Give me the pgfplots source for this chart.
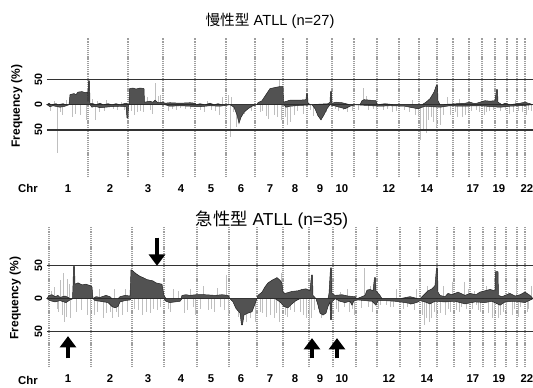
\documentclass[border=0pt]{standalone}
\usepackage{pgfplots}
\pgfplotsset{compat=1.18}
\usepackage{fontspec}
\setmainfont{Liberation Sans}
\newfontfamily\cjk{Noto Sans CJK JP}
\usetikzlibrary{arrows.meta}

\pgfplotsset{
 panel/.style={scale only axis, width=364.5pt, xmin=47, xmax=533,
  axis line style={draw=none}, tick style={draw=none}, clip=false,
  ytick={-50,0,50}, yticklabels={50,0,50},
  xtick={68,110,148,181,211,241,270,295,320,342,389,427,473,499,527},
  xticklabels={1,2,3,4,5,6,7,8,9,10,12,14,17,19,22},
  xticklabel style={font=\bfseries\fontsize{8.5}{10}\selectfont, yshift=-2pt},
  yticklabel style={font=\bfseries\fontsize{8}{10}\selectfont, rotate=90, anchor=south},
  /pgf/number format/assume math mode=true},
 spk/.style={ycomb, gray!50, line width=0.55pt, mark=none},
 ar/.style={fill=black!68, draw=black!88, line width=0.35pt, mark=none},
}
\tikzset{
 sep/.style={gray!75, line width=0.9pt, dash pattern=on 0.9pt off 0.7pt},
 hl/.style={black!80, line width=0.85pt},
 arr/.style={black, line width=3pt, -{Triangle[width=12pt,length=8.5pt]}},
}

\begin{document}
\begin{tikzpicture}
\path[use as bounding box] (0,0) rectangle (399.75pt,290.25pt);

% ---------- top panel ----------
\begin{axis}[panel, at={(35.25pt,157.5pt)}, anchor=south west, height=104.25pt, ymin=-143, ymax=132]
\pgfplotsinvokeforeach{88,128,163,195,226,255,283,307,332,354,377,399,419,437,453,469,482,495,507,517,525}{
 \draw[sep] (axis cs:#1,-143) -- (axis cs:#1,132);}
\addplot[spk] coordinates {(57,-95)(62,-20)(66,10)(72,-25)(80,-20)(84,14)(92,12)(95,-30)(97,8)(104,-12)(117,-10)(124,-10)(137,-15)(140,-12)(150,-10)(155,42)(160,20)(168,-12)(176,-10)(185,-8)(200,-10)(207,8)(215,-12)(222,15)(228,20)(230,-63)(233,-15)(247,-10)(262,-12)(274,-20)(279,49)(285,-25)(290,-35)(294,-20)(310,-10)(316,-10)(322,-20)(338,-12)(347,-15)(363,33)(368,-10)(373,-8)(383,-10)(392,-15)(404,-10)(415,-20)(420,-70)(423,-50)(428,-30)(433,-35)(440,-40)(447,15)(450,-20)(455,-15)(459,12)(462,-25)(468,-15)(476,-10)(486,-15)(493,-10)(505,-10)(513,-15)(518,-12)(528,-10)};
\addplot[spk] coordinates {(50,-12)(54,8)(60,-15)(75,-18)(86,-30)(99,-15)(106,10)(113,-8)(121,6)(131,-12)(134,-20)(143,-14)(147,15)(152,-18)(158,18)(172,-8)(180,-6)(190,-8)(204,-14)(211,-10)(219,-20)(225,-25)(231,15)(236,-45)(244,-18)(251,-12)(260,-15)(266,-22)(268,-28)(277,-25)(281,-30)(287,-40)(297,-12)(303,-18)(313,-22)(319,-25)(326,-15)(335,-8)(343,-10)(352,-12)(358,-10)(366,18)(376,-12)(387,-8)(396,-12)(409,-15)(412,10)(418,-25)(426,-55)(431,-25)(436,-45)(443,-20)(452,12)(457,-25)(465,-20)(471,-12)(479,-15)(484,-20)(489,-12)(500,-12)(509,-18)(515,10)(522,-15)(526,-20)(531,-12)};
\addplot[ar] coordinates {(47,0)(49,3)(51,0)(56,2)(58,0)(63,2)(66,0)(69,0)(70,20)(72,21)(74,22)(76,20)(78,25)(82,26)(85,24)(87.5,25)(88,6)(88.5,47)(89.5,47)(90,3)(93,2)(96,0)(100,3)(103,0)(108,2)(112,0)(116,2)(120,0)(126,3)(129,0)(129.5,32)(133,33)(136,31)(140,33)(144,32)(144.5,5)(150,7)(153,5)(155,9)(158,4)(163,5)(165,3)(170,4)(180,3)(190,4)(195,3)(196,0)(200,2)(205,0)(210,3)(214,0)(218,2)(222,0)(257,0)(258,4)(262,8)(266,20)(270,32)(275,34)(280,36)(283,36)(283.5,5)(290,9)(300,9)(306,10)(306.5,22)(307.5,22)(308,4)(310,0)(328,2)(330,5)(330.5,26)(331.5,26)(332,3)(336,5)(342,4)(346,2)(350,0)(360,0)(362,8)(364,10)(370,9)(376,8)(377,0)(385,2)(395,0)(422,0)(426,5)(430,12)(434,25)(436.5,39)(437.5,39)(438,8)(440,0)(465,3)(470,5)(475,2)(480,5)(485,8)(490,7)(495,8)(496.5,30)(497.5,30)(498,5)(502,0)(505,3)(510,0)(520,3)(525,5)(530,2)(533,0)} \closedcycle;
\addplot[ar] coordinates {(47,0)(50,-4)(53,-2)(60,-5)(65,-3)(69,0)(90,0)(92,-5)(95,-3)(100,-6)(110,-4)(120,-3)(126,-4)(127,-26)(128,-26)(128.5,0)(165,0)(170,-3)(180,-2)(190,-3)(200,-4)(210,-2)(220,-3)(230,0)(234,-5)(237,-20)(239,-37)(241,-25)(244,-15)(248,-8)(252,-3)(256,0)(284,0)(286,-5)(290,-3)(296,-2)(312,0)(315,-8)(318,-22)(321,-30)(324,-20)(327,-8)(330,0)(336,-3)(345,-8)(350,-3)(355,0)(380,-3)(390,-2)(405,-3)(410,-5)(418,-8)(425,-3)(440,-5)(450,-2)(460,-3)(480,-2)(500,-5)(510,-3)(520,-2)(533,0)} \closedcycle;
\draw[hl] (axis cs:47,50) -- (axis cs:533,50);
\draw[hl] (axis cs:47,-50) -- (axis cs:533,-50);
\end{axis}

% ---------- bottom panel ----------
\begin{axis}[panel, at={(35.25pt,15pt)}, anchor=south west, height=105pt, ymin=-104, ymax=109]
\pgfplotsinvokeforeach{49,91,132,164,197,229,257,283,309,333,356,377,400,420,437,454,470,483,495,506,517,525}{
 \draw[sep] (axis cs:#1,-104) -- (axis cs:#1,109);}
\addplot[spk] coordinates {(51,12)(57,-15)(60,28)(63,39)(64,-35)(67,30)(70,-30)(78,15)(85,20)(90,-35)(97,-20)(103,-30)(110,-20)(114,15)(118,-28)(122,-25)(125,15)(138,-18)(146,-20)(153,-15)(160,-12)(170,-20)(178,12)(184,-22)(190,15)(195,-25)(200,-15)(208,-18)(214,-20)(220,-12)(226,36)(228,-25)(250,-30)(255,-35)(262,-22)(270,-25)(274,-30)(279,-35)(281,39)(285,-25)(290,-18)(300,-20)(306,-30)(309,-40)(311,-30)(318,-15)(336,-15)(340,10)(344,-12)(349,-20)(354,-25)(364,47)(368,-12)(372,-20)(380,-10)(390,-12)(396,15)(403,-15)(410,-10)(414,-18)(422,-25)(424,-40)(427,20)(431,-30)(434,-20)(440,-22)(443,20)(448,-15)(452,25)(456,-18)(461,-12)(464,25)(468,15)(472,-15)(476,-10)(480,-20)(486,20)(490,15)(494,-25)(498,-30)(503,-20)(508,10)(512,-25)(516,22)(520,-12)(524,12)(528,-15)(531,20)};
\addplot[spk] coordinates {(48,-12)(54,18)(58,-20)(62,-25)(66,-28)(69,22)(76,-20)(81,-18)(87,-25)(94,-25)(99,15)(106,-22)(112,-30)(116,-20)(127,-20)(134,-15)(142,-25)(150,-22)(157,-18)(168,-15)(173,14)(187,-18)(193,-12)(203,20)(211,-15)(217,16)(224,-18)(238,-28)(246,-35)(260,-20)(266,-28)(276,-22)(287,-28)(294,-20)(303,-25)(314,-18)(321,-30)(338,-20)(347,14)(352,-15)(361,-14)(370,20)(378,-15)(386,-10)(393,-12)(407,-12)(416,15)(426,-30)(429,-35)(436,-30)(445,-25)(450,-20)(459,-20)(466,-15)(474,12)(478,-18)(488,-22)(492,-30)(500,-25)(506,-20)(514,-15)(518,-28)(527,-20)};
\addplot[ar] coordinates {(47,0)(49,5)(52,6)(55,3)(58,5)(60,2)(65,4)(68,2)(70,0)(72.5,0)(73,20)(73.5,49)(74.5,49)(75,22)(78,24)(82,21)(86,22)(90,20)(92,18)(93,0)(96,3)(100,2)(106,5)(110,3)(112,0)(118,0)(120,3)(125,5)(130,4)(131,44)(133,42)(136,38)(140,34)(143,32)(147,29)(150,28)(153,27)(156,24)(159,23)(162,22)(164,5)(166,0)(181,0)(182,5)(186,6)(190,5)(196,6)(205,6)(215,5)(222,6)(228,5)(230,0)(257,0)(258,5)(262,10)(265,18)(268,24)(272,28)(277,32)(280,28)(282,24)(283,10)(285,8)(292,11)(298,12)(302,14)(306,15)(310,12)(311.5,36)(312.5,36)(313,5)(316,0)(328,0)(329,8)(330.5,47)(331.5,47)(332,8)(335,5)(342,6)(348,4)(355,3)(357,0)(365,5)(367,13)(370,14)(373,12)(374.5,32)(375.5,32)(376,12)(380,5)(382,0)(400,0)(410,3)(418,0)(420,0)(424,6)(428,12)(432,15)(435,20)(436.5,47)(437.5,47)(438,10)(440,5)(445,3)(448,8)(452,6)(458,10)(465,5)(470,8)(476,6)(480,10)(485,12)(490,14)(495,12)(495.5,41)(498,41)(498.5,5)(502,3)(505,5)(510,8)(515,4)(520,6)(525,10)(530,5)(533,0)} \closedcycle;
\addplot[ar] coordinates {(47,0)(50,-3)(55,-5)(60,-3)(66,-6)(70,-2)(73,0)(93,0)(95,-3)(100,-4)(108,-6)(112,-12)(115,-14)(118,-12)(120,-5)(125,-3)(130,-2)(131,0)(164,0)(166,-4)(170,-6)(175,-5)(180,-4)(182,0)(230,0)(233,-5)(236,-15)(240,-22)(241.5,-40)(242.5,-40)(244,-25)(248,-22)(252,-20)(255,-8)(257,0)(275,0)(280,-5)(284,-12)(288,-14)(292,-8)(296,-3)(300,0)(316,0)(318,-10)(320,-22)(323,-25)(326,-22)(328,-12)(330,-5)(330.5,-32)(331.5,-32)(332,-5)(335,0)(340,-4)(345,-6)(350,-4)(352,-10)(354,-3)(358,-2)(372,-4)(376,-10)(378,-3)(385,-3)(395,-4)(405,-6)(412,-8)(418,-5)(420,-3)(425,-5)(430,-8)(435,-4)(445,-5)(455,-4)(465,-8)(475,-5)(485,-6)(492,-4)(500,-10)(505,-5)(515,-4)(525,-6)(533,0)} \closedcycle;
\draw[hl] (axis cs:47,50) -- (axis cs:533,50);
\draw[hl] (axis cs:47,-50) -- (axis cs:533,-50);
\draw[arr] (axis cs:157,93) -- (axis cs:157,50);
\draw[arr] (axis cs:68,-91) -- (axis cs:68,-57);
\draw[arr] (axis cs:312,-91) -- (axis cs:312,-60);
\draw[arr] (axis cs:337,-91) -- (axis cs:337,-60);
\end{axis}

% ---------- texts ----------
\node[font=\fontsize{11}{13}\selectfont] at (202.5pt,274.9pt) {{\cjk 慢性型} ATLL (n=27)};
\node[font=\fontsize{13}{15}\selectfont] at (204pt,125.25pt) {{\cjk 急性型} ATLL (n=35)};
\node[font=\bfseries\fontsize{9}{11}\selectfont, rotate=90] at (12.5pt,210.75pt) {Frequency (\%)};
\node[font=\bfseries\fontsize{9}{11}\selectfont, rotate=90] at (11.5pt,66.75pt) {Frequency (\%)};
\node[font=\bfseries\fontsize{8.5}{10}\selectfont] at (21pt,149.25pt) {Chr};
\node[font=\bfseries\fontsize{8.5}{10}\selectfont] at (21pt,5.25pt) {Chr};
\end{tikzpicture}
\end{document}
